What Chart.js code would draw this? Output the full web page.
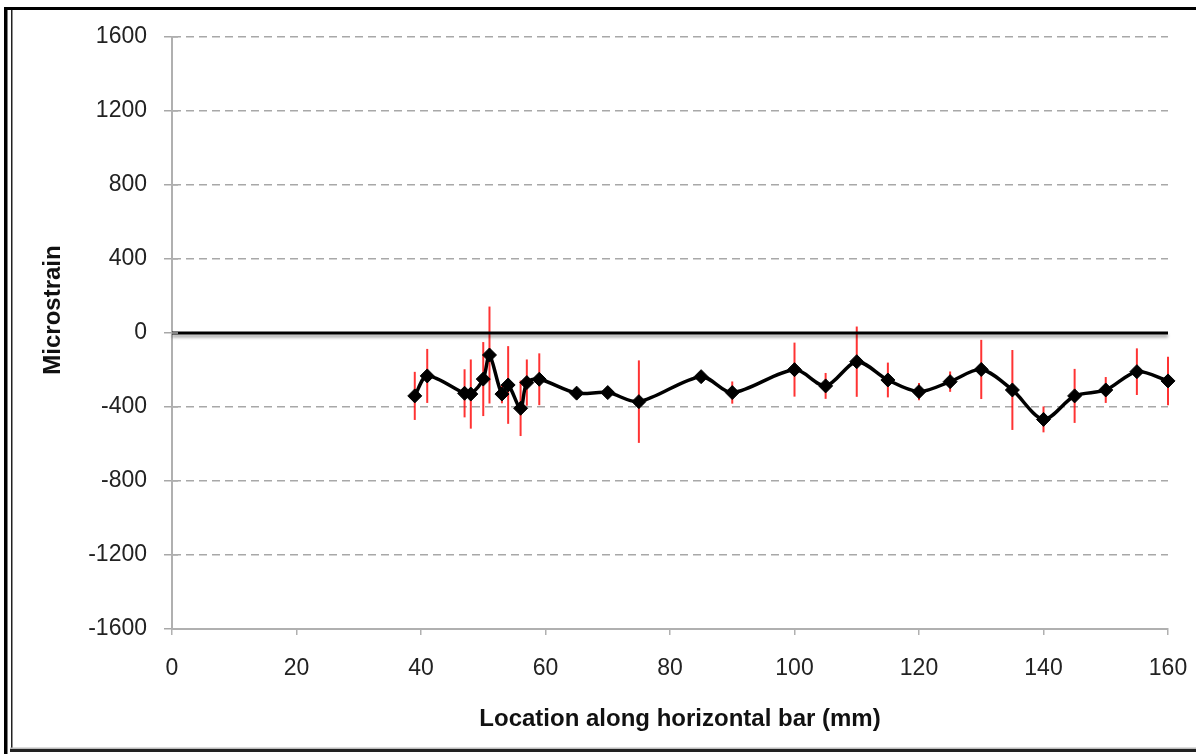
<!DOCTYPE html>
<html>
<head>
<meta charset="utf-8">
<script src="https://cdn.jsdelivr.net/npm/chart.js@4/dist/chart.umd.min.js"></script>
<style>
  html, body { margin: 0; padding: 0; background: #fff; }
  #wrap { width: 1196px; height: 754px; position: relative; }
</style>
</head>
<body>
<div id="wrap"><canvas id="c" width="1196" height="754"></canvas></div>
<script>
// ---- data ----
const locations = [39, 41, 47, 48, 50, 51, 53, 54, 56, 57, 59, 65, 70, 75, 85, 90, 100, 105, 110, 115, 120, 125, 130, 135, 140, 145, 150, 155, 160];
const microstrain = [-340, -232, -326, -330, -249, -119, -330, -281, -407, -268, -250, -325, -322, -371, -236, -322, -198, -286, -155, -254, -317, -263, -197, -308, -467, -340, -308, -209, -259];
const errors = [130, 146, 130, 187, 200, 262, 50, 210, 150, 125, 140, 0, 0, 223, 30, 60, 146, 70, 190, 94, 47, 55, 160, 216, 70, 146, 70, 126, 131];
const zeroLineX = [0, 160];
const zeroLineY = [0, 0];
const xTickValues = [0, 20, 40, 60, 80, 100, 120, 140, 160];
const yTickValues = [-1600, -1200, -800, -400, 0, 400, 800, 1200, 1600];
const xTitle = 'Location along horizontal bar (mm)';
const yTitle = 'Microstrain';

const FONT = "'Liberation Sans', Arial, Helvetica, sans-serif";

const errorBarPlugin = {
  id: 'errorBars',
  beforeDatasetsDraw(chart) {
    const meta = chart.getDatasetMeta(1);
    const ys = chart.scales.y;
    const ctx = chart.ctx;
    ctx.save();
    ctx.strokeStyle = 'rgba(255,0,0,0.8)';
    ctx.lineWidth = 2;
    meta.data.forEach((pt, i) => {
      const e = errors[i];
      if (!e) return;
      const v = microstrain[i];
      ctx.beginPath();
      ctx.moveTo(pt.x, ys.getPixelForValue(v + e));
      ctx.lineTo(pt.x, ys.getPixelForValue(v - e));
      ctx.stroke();
    });
    ctx.restore();
  }
};

const shadowPlugin = {
  id: 'lineShadow',
  beforeDatasetDraw(chart, args) {
    if (args.index === 0) {
      chart.ctx.save();
      chart.ctx.shadowColor = 'rgba(0,0,0,0.35)';
      chart.ctx.shadowOffsetY = 3;
      chart.ctx.shadowBlur = 3;
    }
  },
  afterDatasetDraw(chart, args) {
    if (args.index === 0) chart.ctx.restore();
  }
};

const decorPlugin = {
  id: 'decor',
  beforeDraw(chart) {
    const ctx = chart.ctx;
    ctx.save();
    ctx.fillStyle = '#fff';
    ctx.fillRect(0, 0, chart.width, chart.height);
    ctx.restore();
  },
  afterDraw(chart) {
    const ctx = chart.ctx;
    const a = chart.chartArea;
    ctx.save();
    // y tick cross marks (extend right of axis)
    ctx.strokeStyle = '#b0b0b0';
    ctx.lineWidth = 1.5;
    yTickValues.forEach(v => {
      const py = chart.scales.y.getPixelForValue(v);
      ctx.beginPath();
      ctx.moveTo(a.left, py);
      ctx.lineTo(a.left + 6, py);
      ctx.stroke();
    });
    // titles
    ctx.fillStyle = '#111';
    ctx.font = 'bold 24px ' + FONT;
    ctx.textAlign = 'center';
    ctx.textBaseline = 'middle';
    ctx.fillText(xTitle, 680, 719);
    ctx.translate(53, 310);
    ctx.rotate(-Math.PI / 2);
    ctx.fillText(yTitle, 0, 0);
    ctx.setTransform(1, 0, 0, 1, 0, 0);
    // frame
    ctx.fillStyle = '#000';
    ctx.fillRect(4, 7, 1192, 3);
    ctx.fillRect(4, 7, 3.5, 747);
    ctx.fillStyle = '#222';
    ctx.fillRect(11, 10, 1.5, 742);
    ctx.fillRect(10, 749, 1186, 3);
    ctx.fillStyle = '#bbb';
    ctx.fillRect(10, 747.5, 1186, 1.5);
    ctx.restore();
  }
};

new Chart(document.getElementById('c'), {
  type: 'line',
  data: {
    datasets: [
      {
        label: 'zero',
        data: zeroLineX.map((x, i) => ({ x, y: zeroLineY[i] })),
        borderColor: '#000',
        borderWidth: 3,
        pointRadius: 0,
        tension: 0,
        clip: false
      },
      {
        label: 'Microstrain',
        data: locations.map((x, i) => ({ x, y: microstrain[i] })),
        borderColor: '#000',
        borderWidth: 3.5,
        tension: 0.3,
        pointStyle: 'rectRot',
        pointRadius: 7,
        pointBackgroundColor: '#000',
        pointBorderColor: '#000',
        pointBorderWidth: 1,
        clip: false
      }
    ]
  },
  options: {
    responsive: false,
    animation: false,
    devicePixelRatio: 1,
    layout: { padding: { top: 37, right: 28, left: 0, bottom: 0 } },
    plugins: { legend: { display: false }, tooltip: { enabled: false } },
    scales: {
      x: {
        type: 'linear',
        min: 0, max: 160,
        afterFit(s) { s.height = 125; s.paddingLeft = 0; s.paddingRight = 0; },
        afterBuildTicks(s) { s.ticks = xTickValues.map(v => ({ value: v })); },
        grid: { drawOnChartArea: false, drawTicks: true, tickLength: 6, color: '#b0b0b0', lineWidth: 1.5 },
        border: { display: true, color: '#b0b0b0', width: 2 },
        ticks: { color: '#222', font: { family: FONT, size: 23 }, padding: 20, maxRotation: 0, autoSkip: false, callback: v => String(v) }
      },
      y: {
        type: 'linear',
        min: -1600, max: 1600,
        afterFit(s) { s.width = 172; s.paddingTop = 0; s.paddingBottom = 0; },
        afterBuildTicks(s) { s.ticks = yTickValues.map(v => ({ value: v })); },
        grid: { drawOnChartArea: true, drawTicks: true, tickLength: 8, color: '#a8a8a8', lineWidth: 1.5 },
        border: { display: true, color: '#b0b0b0', width: 2, dash: [8, 5] },
        ticks: { color: '#222', font: { family: FONT, size: 23 }, padding: 17, autoSkip: false, callback: v => String(v) }
      }
    }
  },
  plugins: [decorPlugin, errorBarPlugin, shadowPlugin]
});
</script>
</body>
</html>
